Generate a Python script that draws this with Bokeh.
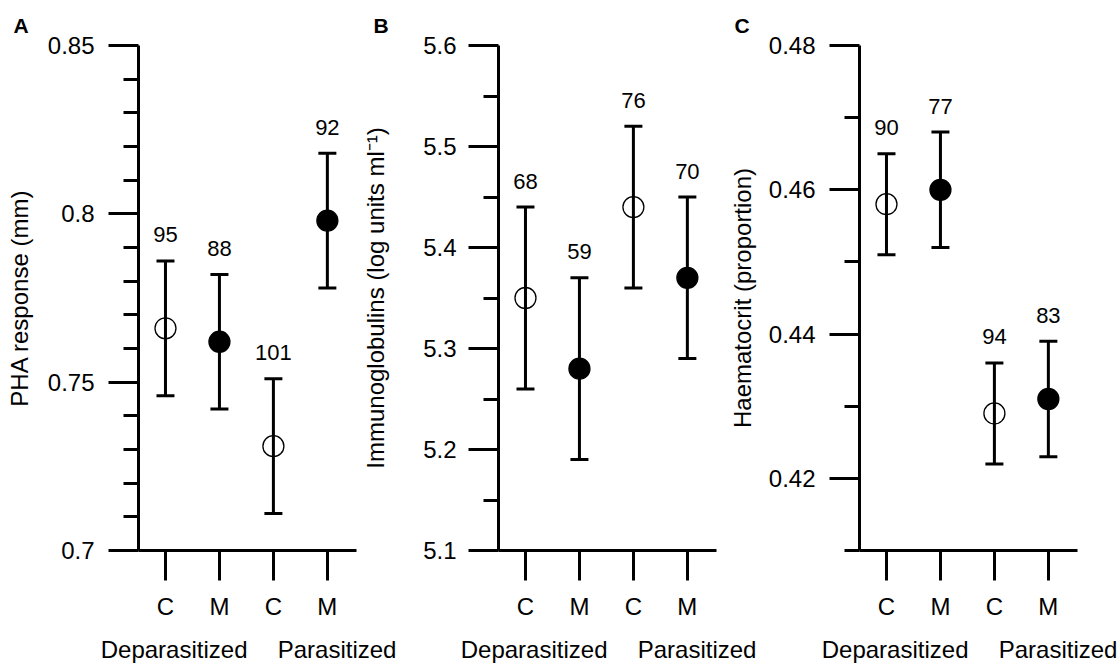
from bokeh.plotting import figure
from bokeh.models import FixedTicker, LinearAxis, Range1d, ColumnDataSource
from bokeh.layouts import row
from bokeh.embed import file_html
from bokeh.resources import INLINE
from bokeh.core.properties import value

FONT = "Liberation Sans"

# ---- data -------------------------------------------------------------
treatments = ["C", "M", "C", "M"]
groups = ["Deparasitized", "Parasitized"]

pha_mean = [0.766, 0.762, 0.731, 0.798]
pha_upper = [0.786, 0.782, 0.751, 0.818]
pha_lower = [0.746, 0.742, 0.711, 0.778]
pha_n = [95, 88, 101, 92]

ig_mean = [5.35, 5.28, 5.44, 5.37]
ig_upper = [5.44, 5.37, 5.52, 5.45]
ig_lower = [5.26, 5.19, 5.36, 5.29]
ig_n = [68, 59, 76, 70]

hct_mean = [0.458, 0.460, 0.429, 0.431]
hct_upper = [0.465, 0.468, 0.436, 0.439]
hct_lower = [0.451, 0.452, 0.422, 0.423]
hct_n = [90, 77, 94, 83]

pha_ticks = [0.7, 0.75, 0.8, 0.85]
pha_minor = [0.71, 0.72, 0.73, 0.74, 0.76, 0.77, 0.78, 0.79,
             0.81, 0.82, 0.83, 0.84]
ig_ticks = [5.1, 5.2, 5.3, 5.4, 5.5, 5.6]
ig_minor = [5.15, 5.25, 5.35, 5.45, 5.55]
hct_ticks = [0.42, 0.44, 0.46, 0.48]
hct_minor = [0.41, 0.43, 0.45, 0.47]

# ---- layout / style ---------------------------------------------------
cat_pos = [i + 1 for i in range(len(treatments))]
group_pos = [1.16, 4.18]
FRAME_W, FRAME_H = 218, 505
BORDER_L = 150


def make_panel(letter, ylabel, mean, upper, lower, n, yrange, ticks, minor,
               border_right, margin_left, tick_standoff, label_standoff,
               title_offset):
    p = figure(frame_width=FRAME_W, frame_height=FRAME_H,
               x_range=Range1d(0.5, 4.54), y_range=Range1d(*yrange),
               output_backend="svg", toolbar_location=None,
               min_border_left=BORDER_L, min_border_right=border_right,
               min_border_top=45, min_border_bottom=0)
    p.margin = (0, 0, 0, margin_left)
    p.background_fill_color = None
    p.border_fill_color = None
    p.outline_line_color = None
    p.xgrid.visible = False
    p.ygrid.visible = False

    # panel letter
    p.title.text = letter
    p.title.text_font = FONT
    p.title.text_font_size = "21px"
    p.title.text_font_style = "bold"
    p.title.text_color = "black"
    p.title.align = "left"
    p.title.offset = title_offset
    p.title.standoff = 18

    # axes
    for ax in (p.xaxis[0], p.yaxis[0]):
        ax.axis_line_width = 3
        ax.axis_line_color = "black"
        ax.major_tick_line_width = 3
        ax.minor_tick_line_width = 3
        ax.major_tick_line_color = "black"
        ax.minor_tick_line_color = "black"
        ax.major_tick_in = 0
        ax.minor_tick_in = 0
        ax.major_tick_out = 30
        ax.major_label_text_font = FONT
        ax.major_label_text_font_size = "24px"
        ax.major_label_text_color = "black"

    xa = p.xaxis[0]
    xa.ticker = FixedTicker(ticks=cat_pos)
    xa.major_label_overrides = {c: t for c, t in zip(cat_pos, treatments)}
    xa.minor_tick_line_color = None
    xa.major_label_standoff = 12

    ya = p.yaxis[0]
    ya.ticker = FixedTicker(ticks=ticks, minor_ticks=minor)
    ya.major_label_overrides = {t: f"{t:g}" for t in ticks}
    ya.minor_tick_out = 15
    ya.major_label_standoff = tick_standoff
    ya.axis_label = ylabel
    ya.axis_label_text_font = FONT
    ya.axis_label_text_font_size = "24px"
    ya.axis_label_text_font_style = "normal"
    ya.axis_label_text_color = "black"
    ya.axis_label_standoff = label_standoff

    gax = LinearAxis(ticker=FixedTicker(ticks=group_pos),
                     major_label_overrides={g: t for g, t in zip(group_pos, groups)},
                     axis_line_color=None, major_tick_line_color=None,
                     minor_tick_line_color=None, major_tick_out=0,
                     major_tick_in=0, major_label_standoff=13,
                     major_label_text_font=FONT,
                     major_label_text_font_size="24px",
                     major_label_text_color="black")
    p.add_layout(gax, "below")

    src = ColumnDataSource(dict(
        x=cat_pos, mean=mean, upper=upper, lower=lower,
        n=[str(v) for v in n],
        alpha=[0.0 if t == "C" else 1.0 for t in treatments]))

    p.segment(x0="x", y0="lower", x1="x", y1="upper", source=src,
              line_width=3, line_color="black")
    p.scatter(x="x", y="upper", source=src, marker="dash", size=18,
              line_width=3, line_color="black")
    p.scatter(x="x", y="lower", source=src, marker="dash", size=18,
              line_width=3, line_color="black")
    p.scatter(x="x", y="mean", source=src, marker="circle", size=21,
              fill_color="black", fill_alpha="alpha",
              line_color="black", line_width=1.3)
    p.text(x="x", y="upper", text="n", source=src, y_offset=-26,
           text_align="center", text_baseline="alphabetic",
           text_font=value(FONT), text_font_size="22px", text_color="black")
    return p


pa = make_panel("A", "PHA response (mm)", pha_mean, pha_upper, pha_lower,
                pha_n, (0.7, 0.85), pha_ticks, pha_minor,
                45, -12, 14, 12, -125)
pb = make_panel("B", "Immunoglobulins (log units ml\u207b\u00b9)", ig_mean,
                ig_upper, ig_lower, ig_n, (5.1, 5.6), ig_ticks, ig_minor,
                45, -53, 12, 31, -125)
pc = make_panel("C", "Haematocrit (proportion)", hct_mean, hct_upper,
                hct_lower, hct_n, (0.41, 0.48), hct_ticks, hct_minor,
                41, -52, 14, 10, -125)

layout = row(pa, pb, pc)
open("out.html", "w").write(file_html(layout, INLINE))
